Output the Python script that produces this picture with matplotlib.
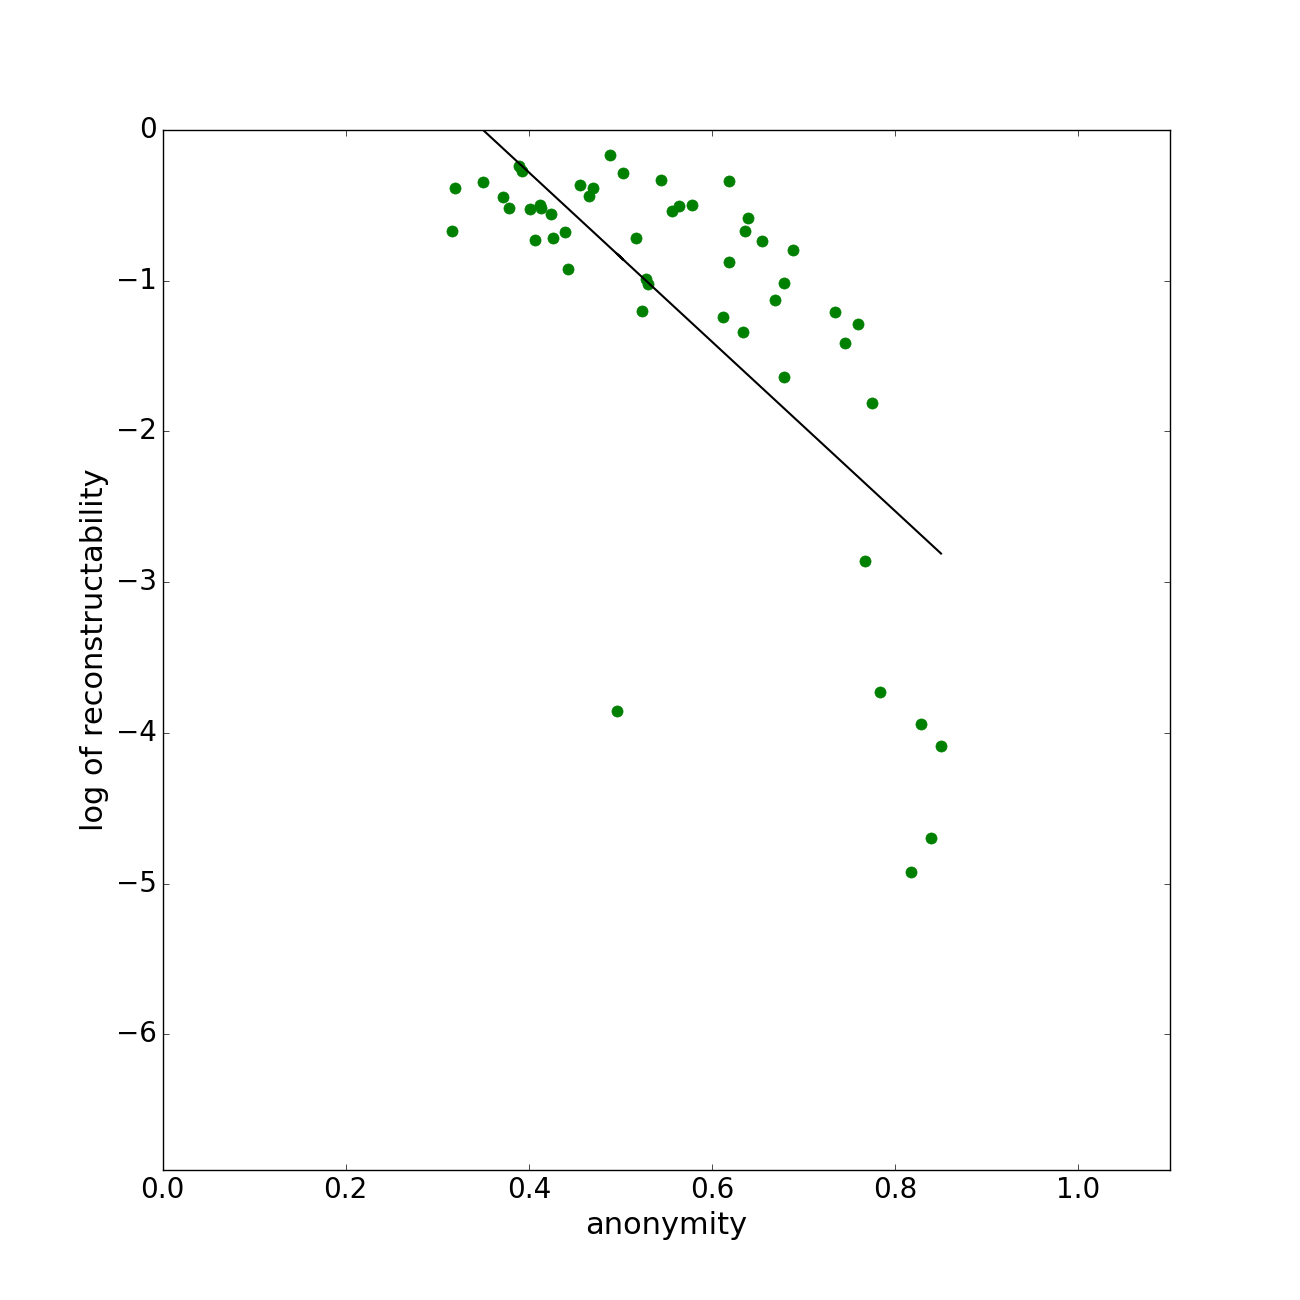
import numpy as np
import matplotlib
matplotlib.use('Agg')
import matplotlib.pyplot as plt

plt.style.use('classic')
plt.rcParams['font.size'] = 20

anonymity = [0.316, 0.319, 0.350, 0.372, 0.378, 0.389, 0.393, 0.401, 0.407, 0.412,
             0.413, 0.424, 0.426, 0.439, 0.443, 0.456, 0.466, 0.470, 0.489, 0.503,
             0.496, 0.517, 0.524, 0.528, 0.530, 0.544, 0.556, 0.564, 0.578, 0.612,
             0.618, 0.619, 0.634, 0.636, 0.639, 0.655, 0.669, 0.679, 0.679, 0.688,
             0.734, 0.745, 0.759, 0.767, 0.775, 0.783, 0.817, 0.828, 0.839, 0.850]
log_recon = [-0.668, -0.384, -0.342, -0.444, -0.517, -0.237, -0.272, -0.524, -0.728, -0.498,
             -0.517, -0.557, -0.719, -0.679, -0.922, -0.362, -0.440, -0.384, -0.164, -0.287,
             -3.855, -0.715, -1.199, -0.991, -1.022, -0.332, -0.540, -0.502, -0.499, -1.238,
             -0.874, -0.340, -1.340, -0.670, -0.586, -0.737, -1.130, -1.641, -1.014, -0.794,
             -1.206, -1.412, -1.288, -2.860, -1.812, -3.728, -4.924, -3.941, -4.698, -4.088]

# least squares line shown in the original
fit_slope = -5.62
fit_intercept = 1.967

fig = plt.figure(figsize=(13, 13), dpi=100)
ax = fig.add_subplot(111)
ax.plot(anonymity, log_recon, 'go', markersize=8, markeredgecolor='g')
xs = np.array(anonymity)
ax.plot(xs, fit_slope * xs + fit_intercept, 'k-', linewidth=1.5)
ax.set_xlim(0, 1.1)
ax.set_ylim(-6.9, 0)
ax.set_xlabel('anonymity', fontsize=22)
ax.set_ylabel('log of reconstructability', fontsize=22)
fig.savefig('out.png', dpi=100)
